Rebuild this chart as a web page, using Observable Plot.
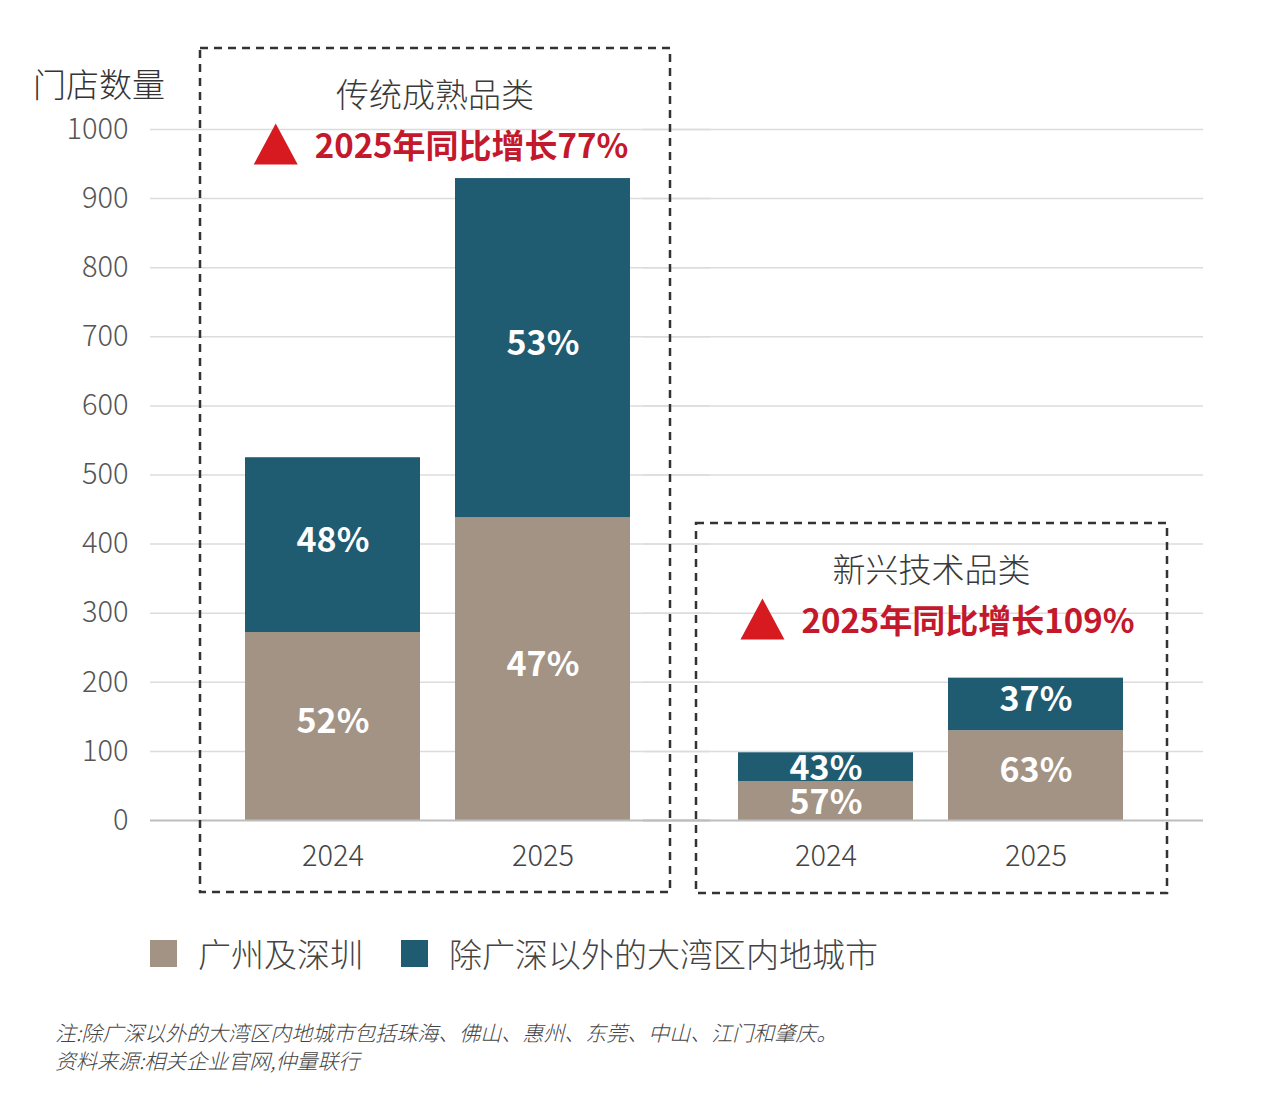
<!DOCTYPE html>
<html><head><meta charset="utf-8">
<script src="https://cdn.jsdelivr.net/npm/d3@7"></script>
<script src="https://cdn.jsdelivr.net/npm/@observablehq/plot@0.6"></script>
<style>
body{margin:0;background:#fff;font-family:"Noto Sans CJK SC","Noto Sans",sans-serif;}
#wrap{position:relative;width:1280px;height:1108px;overflow:hidden;}
#chart{position:absolute;left:0;top:0;}
#legend{position:absolute;left:150px;top:933px;display:flex;align-items:center;font-size:33px;line-height:40px;color:#444;font-weight:300;}
#legend .item{display:flex;align-items:center;margin-right:38px;}
#legend .sw{width:27px;height:27px;display:inline-block;margin-right:21px;}
#note{position:absolute;left:55px;top:1018px;font-size:21px;color:#444;font-style:italic;line-height:28px;font-weight:300;}
</style></head>
<body><div id="wrap"><div id="chart"></div><div id="legend"></div><div id="note"></div></div>
<script>
// ---- data ----
const groups = ["传统成熟品类", "新兴技术品类"];
const growthLabels = ["2025年同比增长77%", "2025年同比增长109%"];
const years = ["2024", "2025"];
const seriesNames = ["广州及深圳", "除广深以外的大湾区内地城市"];
const seriesColors = ["#a29385", "#1f5b71"];
// order: 传统2024, 传统2025, 新兴2024, 新兴2025
const gzszValues = [272, 438, 56, 130];
const otherValues = [253, 491, 42, 76];
const gzszShares = ["52%", "47%", "57%", "63%"];
const otherShares = ["48%", "53%", "43%", "37%"];
const yTicks = [0, 100, 200, 300, 400, 500, 600, 700, 800, 900, 1000];
const yAxisTitle = "门店数量";
const notes = ["注:除广深以外的大湾区内地城市包括珠海、佛山、惠州、东莞、中山、江门和肇庆。", "资料来源:相关企业官网,仲量联行"];

const data = [];
groups.forEach((g, gi) => years.forEach((yr, yi) => {
  const i = gi * 2 + yi;
  data.push({group: g, year: yr, series: seriesNames[0], value: gzszValues[i], label: gzszShares[i]});
  data.push({group: g, year: yr, series: seriesNames[1], value: otherValues[i], label: otherShares[i]});
}));

const FONT = '"Noto Sans CJK SC","Noto Sans",sans-serif';
const labelOpts = {fx: "group", x: "year", y: "value", z: "series", text: "label", fill: "white", fontSize: 34, fontWeight: 700};

const plot = Plot.plot({
  width: 1280, height: 910,
  marginTop: 129, marginBottom: 90, marginLeft: 191, marginRight: 103,
  style: {fontFamily: FONT, background: "transparent"},
  fx: {domain: groups, padding: 0, axis: null},
  x: {domain: years, paddingInner: 35 / 210, paddingOuter: 0.257},
  y: {domain: [0, 1000]},
  color: {domain: seriesNames, range: seriesColors},
  marks: [
    Plot.ruleY(yTicks.slice(1), {stroke: "#dcdcdc", strokeWidth: 1.5, insetLeft: -41, insetRight: -26}),
    Plot.axisY({ticks: yTicks, tickFormat: d => String(d), tickSize: 0, tickPadding: 63, fontSize: 29, fontWeight: 300, color: "#555", label: null}),
    Plot.axisX({tickSize: 0, tickPadding: 25, fontSize: 29, fontWeight: 300, color: "#444", label: null}),
    Plot.barY(data, {fx: "group", x: "year", y: "value", fill: "series"}),
    Plot.ruleY([0], {stroke: "#bdbdbd", strokeWidth: 2, insetLeft: -41, insetRight: -26}),
    // large segments: labels sit slightly above centre
    Plot.text(data, Plot.stackY({...labelOpts, dy: -4, filter: d => d.value >= 70})),
    // thin segments: labels sit slightly below centre
    Plot.text(data, Plot.stackY({...labelOpts, dy: 2, filter: d => d.value < 70}))
  ]
});
document.getElementById("chart").append(plot);

// ---- annotations (dashed boxes, group titles, growth labels) ----
const svg = d3.select(plot);
const sr = plot.getBoundingClientRect();
const ys = plot.scale("y");
const y0 = ys.apply(0), yTop = ys.apply(1000);
const rects = Array.from(plot.querySelectorAll('g[aria-label="bar"] rect')).map(r => {
  const b = r.getBoundingClientRect();
  return {l: b.left - sr.left, r: b.right - sr.left};
});
const lefts = Array.from(new Set(rects.map(d => Math.round(d.l)))).sort((a, b) => a - b);
const bw = d3.max(rects, d => d.r - d.l);
const boxes = [
  {l: lefts[0] - 45, r: lefts[1] + bw + 40, t: yTop - 81, b: y0 + 72},
  {l: lefts[2] - 42, r: lefts[3] + bw + 44, t: y0 - 297, b: y0 + 73}
];
const ann = svg.append("g").attr("font-family", FONT).attr("text-anchor", "start");
boxes.forEach((bx, i) => {
  ann.append("rect").attr("x", bx.l).attr("y", bx.t).attr("width", bx.r - bx.l).attr("height", bx.b - bx.t)
    .attr("fill", "none").attr("stroke", "#333").attr("stroke-width", 2.5).attr("stroke-dasharray", "8,6");
  const cx = (bx.l + bx.r) / 2;
  ann.append("text").attr("x", cx).attr("y", bx.t + 45).attr("text-anchor", "middle")
    .attr("dominant-baseline", "central").attr("font-size", 33).attr("font-weight", 300).attr("fill", "#3a3a3a")
    .text(groups[i]);
  const rowY = bx.t + 96;
  const t = ann.append("text").attr("y", rowY).attr("dominant-baseline", "central").attr("text-anchor", "start")
    .attr("font-size", 33).attr("font-weight", 700).attr("fill", "#c4182c").text(growthLabels[i]);
  const tw = t.node().getComputedTextLength();
  const triW = 44, triH = 41, gap = 17;
  const total = triW + gap + tw;
  const sx = cx + 6 - total / 2;
  t.attr("x", sx + triW + gap);
  ann.append("path").attr("d", `M${sx},${rowY + triH / 2} L${sx + triW / 2},${rowY - triH / 2} L${sx + triW},${rowY + triH / 2} Z`)
    .attr("fill", "#d71920");
});
ann.append("text").attr("x", 33).attr("y", yTop - 46).attr("dominant-baseline", "central").attr("text-anchor", "start")
  .attr("font-size", 33).attr("font-weight", 300).attr("fill", "#333").text(yAxisTitle);

// ---- legend ----
const legend = d3.select("#legend");
seriesNames.forEach((s, i) => {
  const it = legend.append("div").attr("class", "item");
  it.append("span").attr("class", "sw").style("background", seriesColors[i]);
  it.append("span").text(s);
});
// ---- notes ----
d3.select("#note").selectAll("div").data(notes).join("div").text(d => d);
</script>
</body></html>
